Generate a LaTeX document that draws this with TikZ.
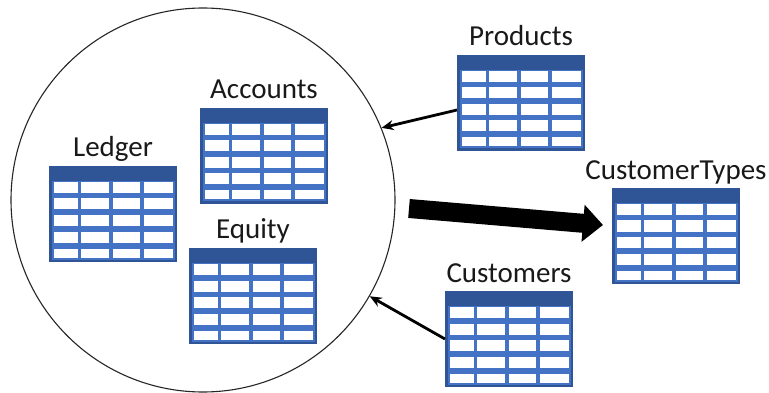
\documentclass[tikz,border=0pt]{standalone}
\usepackage{fontspec}
\setmainfont{Carlito}
\usetikzlibrary{arrows.meta, positioning, calc}
\definecolor{tdark}{RGB}{47, 85,151}
\definecolor{tgrid}{RGB}{68,114,196}
\tikzset{
  % Table icon body (dark frame + header)
  TBL/.style={rectangle,fill=tdark,draw=none,inner sep=0pt,outer sep=0pt,
              minimum width=128pt,minimum height=96pt,anchor=north west},
  % Table caption
  TTL/.style={font=\fontsize{29}{34}\selectfont,inner sep=0pt,text=black!90},
  % Arrows
  Arr/.style   ={-{Stealth[length=12pt,width=10pt]},line width=2.8pt,color=black},
  BigArr/.style={-{Triangle[length=20pt,width=36pt]},line width=19pt,color=black},
}
\begin{document}
\begin{tikzpicture}[x=1pt,y=-1pt]
  \useasboundingbox (0,0) rectangle (769,393);
  % Database circle
  \node[circle,draw=black!85,line width=1.1pt,minimum size=384pt,
        inner sep=0pt] (db) at (203,200) {};
  % Six table icons: name / top-left corner / caption
  \foreach \nm/\px/\py/\ttl in {accounts/200/108/Accounts,
                                ledger/49/166/Ledger,
                                equity/189/248/Equity,
                                products/457/55/Products,
                                custtypes/612/188/CustomerTypes,
                                customers/445/291/Customers}{
    \node[TBL] (\nm) at (\px,\py) {};
    \node[TTL,above=9pt of \nm,anchor=base] (\nm-t) {\ttl};
    \fill[tgrid] ($(\nm.north west)+(2.5,15)$)
                 rectangle ($(\nm.south east)+(-2.5,-2.5)$);
    \foreach \cx/\cw in {4.5/24,32/27.5,63.5/27.5,95/28.5}
      \foreach \ry/\rh in {16/11,32.5/11,49/11,65.5/11,82.5/9}
        \fill[white] ($(\nm.north west)+(\cx,\ry)$) rectangle ++(\cw,\rh);
  }
  % Incoming arrows to the circle
  \draw[Arr] ($(products.west)+(0,7)$) -- (db.22);
  \draw[Arr] (customers.west) -- (db.-30);
  % Thick outgoing arrow
  \coordinate (bigout) at (409,208.5);
  \coordinate (bigin) at ($(custtypes.north west)+(-9,37)$);
  \draw[BigArr] (bigout) -- (bigin);
\end{tikzpicture}
\end{document}
